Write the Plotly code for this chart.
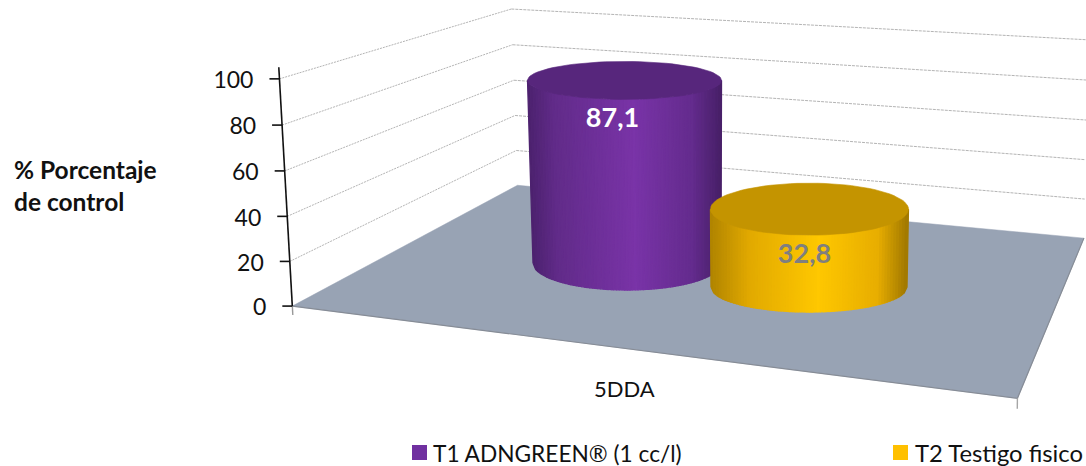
import numpy as np
import plotly.graph_objects as go

categories = ["5DDA"]
series_names = ["T1 ADNGREEN® (1 cc/l)", "T2 Testigo fisico"]
series_values = [87.1, 32.8]
value_labels = ["87,1", "32,8"]
y_ticks = [0, 20, 40, 60, 80, 100]
y_title = "<b>% Porcentaje<br>de control</b>"

FONT = "Lato"
W, H = 1086, 466

# 3d box corners seen in the picture: (x, depth, value) -> pixel, used to solve the camera
anchor_box = [(0, 0), (0, 1), (1, 1)]
anchor_px = [
	[(294, 304), (291, 261), (287, 217), (284, 172), (281, 126), (278, 79)],
	[(515, 185), (515, 151), (515, 116), (515, 81), (514, 44), (513, 8)],
	[(1085, 238), (1085, 200), (1085, 160), (1086, 120), (1086, 80), (1087, 39)],
]

def solve_camera():
	rows = []
	def add(w, p):
		X = [w[0], w[1], w[2], 1]
		rows.append(X + [0, 0, 0, 0] + [-p[0] * c for c in X])
		rows.append([0, 0, 0, 0] + X + [-p[1] * c for c in X])
	for corner, pixels in zip(anchor_box, anchor_px):
		for z, p in zip(y_ticks, pixels):
			add((corner[0], corner[1], z), p)
	add((1, 0, 0), (1018, 398))
	return np.linalg.svd(np.array(rows, float))[2][-1].reshape(3, 4)

P = solve_camera()

def project(x, d, z):
	v = P @ np.array([x, d, z, 1.0])
	return v[0] / v[2], v[1] / v[2]

def floor_point(px, py):
	v = np.linalg.inv(P[:, [0, 1, 3]]) @ np.array([px, py, 1.0])
	return v[0] / v[2], v[1] / v[2]

def line(points, color, width, dash="solid"):
	return go.Scatter(
		x=[p[0] for p in points], y=[p[1] for p in points], mode="lines",
		line=dict(color=color, width=width, dash=dash), hoverinfo="skip", showlegend=False)

def poly(xs, ys, color, edge=None, edge_width=1.3):
	return go.Scatter(
		x=xs, y=ys, mode="lines", fill="toself", fillcolor=color,
		line=dict(color=edge or color, width=edge_width), hoverinfo="skip", showlegend=False)

def shade(stops, u):
	pos = [s[0] for s in stops]
	rgb = [np.interp(u, pos, [s[1][i] for s in stops]) for i in range(3)]
	return "rgb(%d,%d,%d)" % tuple(rgb)

fig = go.Figure()

# floor
corners = [project(0, 0, 0), project(1, 0, 0), project(1, 1, 0), project(0, 1, 0), project(0, 0, 0)]
fig.add_trace(poly([c[0] for c in corners], [c[1] for c in corners], "#98a3b4", edge_width=0.5))
fig.add_trace(line([project(0, 0, 0), project(1, 0, 0), project(1, 1, 0)], "#868c96", 1.2))

# gridlines on the two walls
for t in y_ticks[1:]:
	fig.add_trace(line([project(0, 0, t), project(0, 1, t)], "#b4b4b4", 1, "2px,1px"))
	fig.add_trace(line([project(0, 1, t), project(1, 1, t)], "#b4b4b4", 1, "3px,1px"))

# value axis and its ticks
fig.add_trace(line([project(0, 0, 0), project(0, 0, 105)], "#111111", 1.6))
fig.add_trace(line([project(0, 0, 0), project(0, 0, -4)], "#999999", 1.4))
fig.add_trace(line([project(1, 0, 0), project(1, 0, -4)], "#a6a6a6", 1.4))
tick_x, tick_y = [], []
for t in y_ticks:
	x, y = project(0, 0, t)
	fig.add_trace(line([(x - 10, y), (x, y)], "#111111", 1.6))
	tick_x.append(x - 26)
	tick_y.append(y + 3.5)
fig.add_trace(go.Scatter(
	x=tick_x, y=tick_y, mode="text", text=[str(t) for t in y_ticks], textposition="middle left",
	textfont=dict(family=FONT, size=23, color="#111111"), hoverinfo="skip", showlegend=False))

# cylinders, one per series
base_centers = [(627, 263), (809, 287)]
base_axes = [(94, 27), (98, 25)]
top_axes = [(97, 19), (99, 26)]
top_nudge = [(2, -1), (1, -7)]
label_shift = [(-12, 40), (-5, 47)]
label_colors = ["#ffffff", "#7f7f7f"]
cap_colors = ["#57267c", "#c49400"]
side_stops = [
	[(0, (76, 34, 110)), (0.14, (98, 44, 138)), (0.55, (122, 52, 168)), (0.85, (100, 44, 142)), (1, (72, 32, 104))],
	[(0, (176, 132, 0)), (0.2, (226, 170, 0)), (0.55, (255, 200, 0)), (0.85, (232, 174, 0)), (1, (160, 120, 0))],
]
N_STRIPS = 70

for i, value in enumerate(series_values):
	d = floor_point(*base_centers[i])
	bx, by = project(d[0], d[1], 0)
	tx, ty = project(d[0], d[1], value)
	tx, ty = tx + top_nudge[i][0], ty + top_nudge[i][1]
	a0, b0 = base_axes[i]
	a1, b1 = top_axes[i]
	for k in range(N_STRIPS):
		u0, u1 = k / N_STRIPS, (k + 1) / N_STRIPS
		c0, c1 = 2 * u0 - 1, 2 * u1 - 1
		s0, s1 = np.sqrt(1 - c0 ** 2), np.sqrt(1 - c1 ** 2)
		xs = [bx + a0 * c0, bx + a0 * c1, tx + a1 * c1, tx + a1 * c0, bx + a0 * c0]
		ys = [by + b0 * s0, by + b0 * s1, ty + b1 * s1, ty + b1 * s0, by + b0 * s0]
		fig.add_trace(poly(xs, ys, shade(side_stops[i], (u0 + u1) / 2)))
	th = np.linspace(0, 2 * np.pi, 90)
	fig.add_trace(poly(tx + a1 * np.cos(th), ty + b1 * np.sin(th), cap_colors[i], edge_width=0.6))
	fig.add_trace(go.Scatter(
		x=[tx + label_shift[i][0]], y=[ty + label_shift[i][1]], mode="text", text=[value_labels[i]],
		textposition="middle center", textfont=dict(family=FONT, size=27, color=label_colors[i], weight="bold"),
		hoverinfo="skip", showlegend=False))

annotations = [
	dict(x=12, y=185, text=y_title, align="left", xanchor="left", yanchor="middle",
		font=dict(family=FONT, size=24.5, color="#111111")),
	dict(x=624, y=388, text=categories[0], xanchor="center", yanchor="middle",
		font=dict(family=FONT, size=22, color="#111111")),
	dict(x=431, y=453, text=series_names[0], xanchor="left", yanchor="middle",
		font=dict(family=FONT, size=22.7, color="#111111")),
	dict(x=913, y=453, text=series_names[1], xanchor="left", yanchor="middle",
		font=dict(family=FONT, size=23.8, color="#111111")),
]
for a in annotations:
	a.update(xref="x", yref="y", showarrow=False)

legend_swatches = [
	dict(type="rect", xref="x", yref="y", x0=412, x1=427, y0=445, y1=460, fillcolor="#7030a0", line_width=0),
	dict(type="rect", xref="x", yref="y", x0=893, x1=908, y0=445, y1=460, fillcolor="#ffc000", line_width=0),
]

fig.update_layout(
	width=W, height=H, autosize=False, margin=dict(l=0, r=0, t=0, b=0),
	paper_bgcolor="white", plot_bgcolor="white", showlegend=False,
	xaxis=dict(range=[0, W], visible=False, fixedrange=True),
	yaxis=dict(range=[H, 0], visible=False, fixedrange=True),
	annotations=annotations, shapes=legend_swatches)

# the page's default body margin would push the figure 8px off
fig.write_html(
	"out.html", config=dict(displayModeBar=False),
	post_script="document.body.style.margin='0';document.body.style.overflow='hidden';")
